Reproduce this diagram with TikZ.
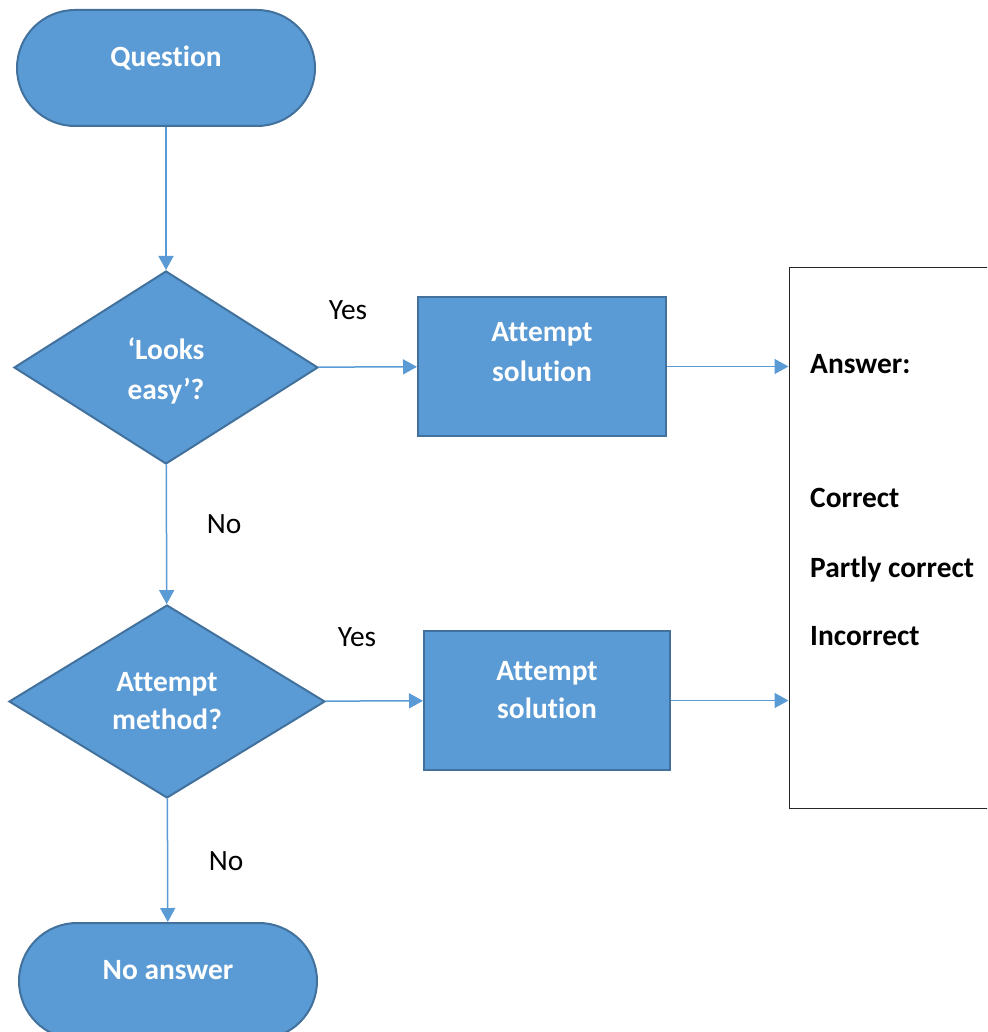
\documentclass[tikz,border=0pt]{standalone}
\usepackage{fontspec}
\setmainfont{Carlito}[Ligatures={NoCommon,NoContextual}]
\usepackage{tikz}
\usetikzlibrary{arrows.meta,shapes.geometric,shapes.misc}
\definecolor{flowblue}{HTML}{5B9BD5}
\definecolor{flowedge}{HTML}{41719C}
\tikzset{>={Triangle[length=14pt,width=15pt]},font=\fontsize{29.4}{40}\selectfont}

\begin{document}
\begin{tikzpicture}[x=1pt,y=-1pt,
  terminal/.style={rounded rectangle,draw=flowedge,fill=flowblue,line width=2pt,
    minimum width=298pt,minimum height=116pt,inner sep=0pt},
  decision/.style={diamond,draw=flowedge,fill=flowblue,line width=2pt,
    minimum width=304pt,minimum height=193pt,inner sep=0pt},
  process/.style={rectangle,draw=flowedge,fill=flowblue,line width=2pt,
    minimum width=248pt,minimum height=139pt,inner sep=0pt},
  inside/.style={text=white,font=\fontsize{29.4}{40}\selectfont\bfseries,align=center,inner sep=0pt},
  answer/.style={font=\fontsize{29.4}{34}\selectfont\bfseries,anchor=base west,inner sep=0pt},
  choice/.style={anchor=base,inner sep=0pt},
  flow/.style={->,color=flowblue,line width=1.5pt}]
\useasboundingbox (0,0) rectangle (987,1032);
\clip (0,0) rectangle (987,1032);

% shapes
\node[terminal] (question) at (166,68) {};
\node[decision] (easy) at (166,367.5) {};
\node[process] (solve1) at (542,366.5) {};
\node[decision,minimum width=316pt] (method) at (167,701.5) {};
\node[process,minimum width=246pt] (solve2) at (547,700.5) {};
\node[terminal] (noanswer) at (168,981) {};
\node[draw=black!85,line width=1pt,minimum width=311pt,minimum height=541pt,inner sep=0pt] (result) at (944.5,537.5) {};

% texts
\node[inside,anchor=base] (question-t) at (166,67) {Question};
\node[inside] (easy-t) at (166,371) {`Looks\\easy'?};
\node[inside] (solve1-t) at (542,352) {Attempt\\solution};
\node[inside,font=\fontsize{29.4}{38}\selectfont\bfseries] (method-t) at (167,701.5) {Attempt\\method?};
\node[inside,font=\fontsize{29.4}{38}\selectfont\bfseries] (solve2-t) at (547,690) {Attempt\\solution};
\node[inside,anchor=base] (noanswer-t) at (168,979) {No answer};
\node[answer] (res-head) at (810,373) {Answer:};
\node[answer] (res-ok) at (810,507) {Correct};
\node[answer] (res-part) at (810,577) {Partly correct};
\node[answer] (res-bad) at (810,645) {Incorrect};

% edges
\path[flow] (question) edge (easy);
\path[flow] (easy) edge (solve1);
\path[flow] (solve1) edge (solve1 -| result.west);
\path[flow] (easy) edge (method);
\path[flow] (method) edge (solve2);
\path[flow] (solve2) edge (solve2 -| result.west);
\path[flow] (method) edge (noanswer);

\node[choice] (yes1) at (348,319) {Yes};
\node[choice] (no1) at (224,533) {No};
\node[choice] (yes2) at (357,646) {Yes};
\node[choice] (no2) at (226,870) {No};
\end{tikzpicture}
\end{document}
